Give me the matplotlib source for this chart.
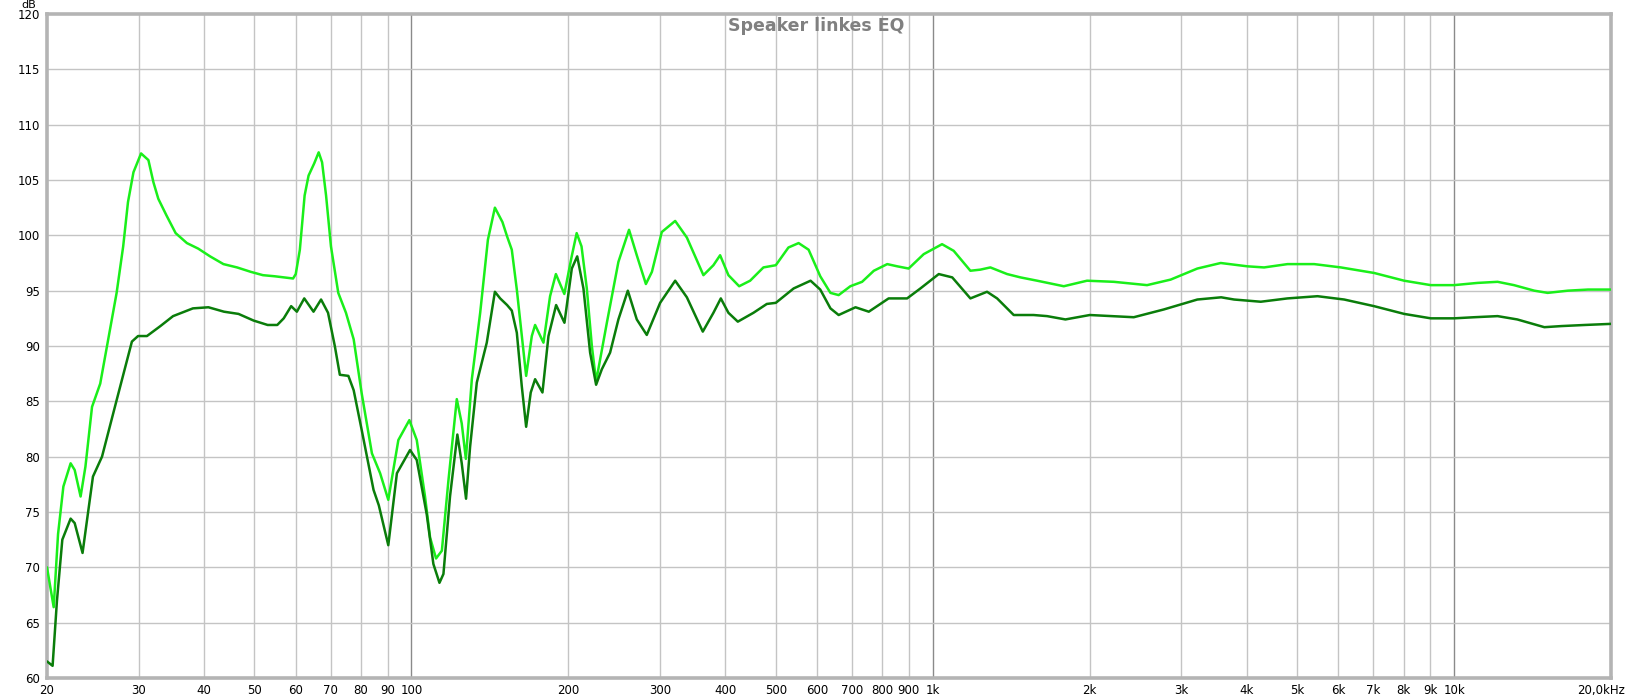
import matplotlib
matplotlib.use("Agg")
import matplotlib.pyplot as plt
import matplotlib.transforms as mtransforms

# ---- data ----
dark_freq = [20.0, 20.5, 20.9, 21.4, 22.2, 22.6, 23.4, 24.5, 25.5, 27.2, 29.1, 29.9, 31.1, 33.0,
             34.9, 38.1, 40.8, 43.7, 46.6, 49.8, 53.0, 55.3, 56.9, 58.8, 60.3, 62.3, 64.9, 67.1,
             69.2, 71.3, 72.9, 75.7, 77.5, 80.3, 84.6, 86.6, 90.3, 93.8, 99.4, 102.4, 107.0,
             110.2, 113.2, 115.2, 118.6, 122.5, 124.9, 127.3, 129.6, 133.5, 139.5, 144.6, 148.0,
             152.6, 155.8, 159.3, 162.8, 166.0, 169.4, 172.7, 178.4, 183.2, 189.5, 196.6, 203.1,
             208.0, 213.8, 220.2, 226.1, 231.9, 240.5, 249.5, 260.1, 270.6, 282.8, 300.0, 320.6,
             337.6, 362.2, 379.6, 392.2, 405.6, 422.8, 453.0, 480.6, 500.0, 541, 583, 608.5, 636.5,
             660, 711, 754, 823, 893, 947, 1027, 1090, 1181, 1271, 1329, 1430, 1561, 1657, 1797,
             2001, 2430, 2774, 3218, 3575, 3785, 4258, 4792, 5472, 6155, 7024, 8022, 9023, 10000,
             10930, 12120, 13220, 14900, 16060, 17810, 20000]
dark_db = [61.5, 61.1, 67.0, 72.5, 74.4, 74.0, 71.3, 78.2, 80.0, 85.1, 90.4, 90.9, 90.9, 91.8,
           92.7, 93.4, 93.5, 93.1, 92.9, 92.3, 91.9, 91.9, 92.5, 93.6, 93.1, 94.3, 93.1, 94.2,
           93.0, 90.0, 87.4, 87.3, 86.0, 82.4, 77.0, 75.6, 72.0, 78.5, 80.6, 79.7, 74.8,
           70.3, 68.6, 69.4, 76.4, 82.0, 79.4, 76.2, 80.9, 86.7, 90.3, 94.9, 94.3,
           93.7, 93.2, 91.2, 86.4, 82.7, 85.8, 87.0, 85.8, 90.9, 93.7, 92.1, 97.0,
           98.1, 95.2, 89.4, 86.5, 87.9, 89.4, 92.4, 95.0, 92.4, 91.0, 93.9, 95.9,
           94.4, 91.3, 93.0, 94.3, 93.0, 92.2, 93.0, 93.8, 93.9, 95.2, 95.9, 95.1, 93.4,
           92.8, 93.5, 93.1, 94.3, 94.3, 95.2, 96.5, 96.2, 94.3, 94.9, 94.3, 92.8, 92.8, 92.7, 92.4,
           92.8, 92.6, 93.3, 94.2, 94.4, 94.2, 94.0, 94.3, 94.5, 94.2, 93.6, 92.9, 92.5, 92.5,
           92.6, 92.7, 92.4, 91.7, 91.8, 91.9, 92.0]

light_freq = [20.0, 20.6, 21.0, 21.5, 22.2, 22.6, 23.2, 23.7, 24.4, 25.3, 26.0, 27.2, 28.0, 28.6,
              29.3, 30.3, 31.3, 32.0, 32.7, 33.9, 35.3, 37.1, 39.0, 41.1, 43.6, 46.3, 49.2, 51.9,
              54.7, 59.3, 60.0, 61.1, 62.4, 63.5, 65.1, 66.4, 67.4, 68.6, 70.1, 72.4, 74.9, 77.5,
              80.3, 84.0, 87.1, 90.3, 94.4, 99.1, 102.4, 106.2, 108.6, 111.5, 114.4, 117.8, 122.2,
              124.9, 127.2, 130.6, 135.5, 140.2, 144.6, 149.5, 152.6, 155.8, 159.3, 166.0, 170.2,
              172.7, 179.2, 184.5, 189.3, 196.5, 203.0, 207.5, 212.0, 217.0, 221.9, 226.1, 237.1,
              249.5, 261.5, 270.6, 281.7, 289.3, 302.2, 320.6, 337.6, 363.2, 379.6, 391.0, 405.6,
              425.3, 446.4, 473.4, 500.0, 528.7, 553, 578, 608.5, 636.5, 660, 695, 732, 771, 818,
              855, 899, 961, 1042, 1097, 1181, 1234, 1290, 1389, 1473, 1586, 1784, 1977, 2225,
              2577, 2860, 3218, 3568, 4013, 4321, 4792, 5391, 6066, 7024, 8022, 9023, 10000,
              11090, 12120, 13030, 14250, 15120, 16530, 18070, 20000]
light_db = [70.0, 66.4, 73.0, 77.3, 79.4, 78.8, 76.4, 79.1, 84.5, 86.6, 89.7, 94.8, 99.0, 103.0,
            105.7, 107.4, 106.8, 104.8, 103.3, 101.8, 100.2, 99.3, 98.8, 98.1, 97.4, 97.1, 96.7, 96.4,
            96.3, 96.1, 96.5, 98.7, 103.6, 105.4, 106.5, 107.5, 106.6, 103.6, 99.0, 94.8, 93.0, 90.6,
            85.7, 80.3, 78.5, 76.1, 81.5, 83.3, 81.5, 76.4, 72.7, 70.8, 71.5, 77.9, 85.2,
            83.0, 79.8, 87.0, 93.0, 99.6, 102.5, 101.2, 99.9, 98.7, 95.1, 87.3, 90.9,
            91.9, 90.3, 94.5, 96.5, 94.7, 98.1, 100.2, 99.0, 95.2, 90.0, 86.8, 92.1,
            97.6, 100.5, 98.2, 95.6, 96.7, 100.3, 101.3, 99.8, 96.4, 97.3, 98.2, 96.4,
            95.4, 95.9, 97.1, 97.3, 98.9, 99.3, 98.7, 96.3, 94.8, 94.6, 95.4, 95.8, 96.8, 97.4,
            97.2, 97.0, 98.3, 99.2, 98.6, 96.8, 96.9, 97.1, 96.5, 96.2, 95.9, 95.4, 95.9, 95.8,
            95.5, 96.0, 97.0, 97.5, 97.2, 97.1, 97.4, 97.4, 97.1, 96.6, 95.9, 95.5, 95.5,
            95.7, 95.8, 95.5, 95.0, 94.8, 95.0, 95.1, 95.1]

title = "Speaker linkes EQ"
y_ticks = list(range(60, 121, 5))
minor_freqs = [30, 40, 50, 60, 70, 80, 90, 200, 300, 400, 500, 600, 700, 800, 900,
               2000, 3000, 4000, 5000, 6000, 7000, 8000, 9000]
decade_freqs = [100, 1000, 10000]
x_tick_vals = [20, 30, 40, 50, 60, 70, 80, 90, 100, 200, 300, 400, 500, 600, 700, 800, 900,
               1000, 2000, 3000, 4000, 5000, 6000, 7000, 8000, 9000, 10000, 20000]
x_tick_labels = ["20", "30", "40", "50", "60", "70", "80", "90", "100", "200", "300", "400",
                 "500", "600", "700", "800", "900", "1k", "2k", "3k", "4k", "5k", "6k", "7k",
                 "8k", "9k", "10k", "20,0kHz"]

# ---- figure ----
W, H = 1633, 699
fig = plt.figure(figsize=(W / 100, H / 100), dpi=100)
ax = fig.add_axes([47 / W, 21 / H, 1564 / W, 664 / H])
ax.set_xscale("log")
ax.set_xlim(20, 20000)
ax.set_ylim(60, 120)

for f in minor_freqs:
    ax.axvline(f, color="#c4c4c4", lw=1.0, zorder=1)
for f in decade_freqs:
    ax.axvline(f, color="#8a8a8a", lw=1.0, zorder=1)
for y in y_ticks[1:-1]:
    ax.axhline(y, color="#c4c4c4", lw=1.0, zorder=1)

ax.plot(light_freq, light_db, color="#1aef1a", lw=1.8, zorder=3,
        solid_joinstyle="round", solid_capstyle="round")
ax.plot(dark_freq, dark_db, color="#0a7d0a", lw=1.8, zorder=4,
        solid_joinstyle="round", solid_capstyle="round")

ax.set_yticks(y_ticks)
ax.set_yticklabels([str(v) for v in y_ticks])
ax.set_xticks(x_tick_vals)
ax.set_xticklabels(x_tick_labels)
ax.xaxis.set_minor_locator(matplotlib.ticker.NullLocator())
ax.tick_params(axis="both", length=0, labelsize=8.5, colors="black")
ax.tick_params(axis="y", pad=5)
ax.tick_params(axis="x", pad=4)

# shift the last x label left so it fits in the figure
last = ax.get_xticklabels()[-1]
last.set_transform(last.get_transform() + mtransforms.ScaledTranslation(-10 / 100, 0, fig.dpi_scale_trans))

for s in ax.spines.values():
    s.set_color("#b4b4b4")
    s.set_linewidth(2.6)

fig.text(29 / W, 1 - 0.5 / H, "dB", fontsize=8, ha="center", va="top")
fig.text(816 / W, 1 - 26 / H, title, fontsize=12.5, fontweight="bold",
         color="#808080", ha="center", va="center")

fig.savefig("out.png", dpi=100, facecolor="white")
